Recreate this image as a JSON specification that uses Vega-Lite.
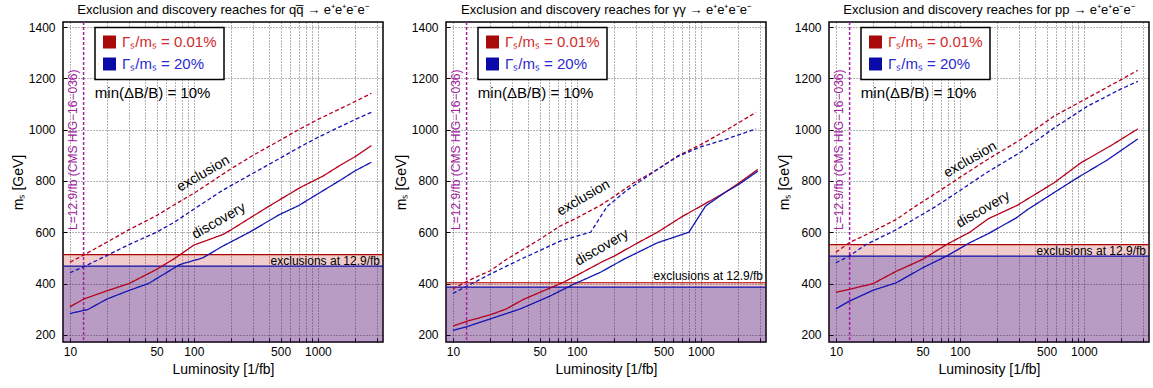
{
"$schema": "https://vega.github.io/schema/vega-lite/v6.json",
"padding": {"left": 10, "top": 3, "right": 0, "bottom": 0},
"spacing": 8,
"config": {
  "font": "Liberation Sans",
  "view": {"stroke": "#000", "strokeWidth": 1.5},
  "axis": {"grid": true, "gridColor": "#000", "gridDash": [1, 2], "gridOpacity": 0.6, "gridWidth": 1, "labelFontSize": 12, "labelColor": "#000", "titleFontSize": 14, "titleFontWeight": "normal", "titleColor": "#000", "domain": false, "tickColor": "#000", "tickSize": -4, "labelFont": "Liberation Sans", "titleFont": "Liberation Sans", "labelOverlap": false},
  "axisX": {"labelPadding": 8, "titlePadding": 5},
  "axisY": {"labelPadding": 12, "titlePadding": 3},
  "title": {"fontSize": 13, "fontWeight": "normal", "font": "Liberation Sans", "offset": 4, "color": "#000"}
},
"resolve": {"scale": {"color": "independent"}, "legend": {"color": "independent"}},
"hconcat": [
{
  "width": 320, "height": 320,
  "title": "Exclusion and discovery reaches for qq̅ → e⁺e⁺e⁻e⁻",
  "layer": [
    {"data": {"values": [{"red": 513, "blue": 468, "lo": 172, "x1": 8.8, "x2": 3350}]}, "mark": {"type": "rect", "color": "#b40000", "opacity": 0.2}, "encoding": {"x": {"field": "x1", "type": "quantitative", "scale": {"type": "log", "domain": [8.8, 3350]}}, "x2": {"field": "x2"}, "y": {"field": "lo", "type": "quantitative", "scale": {"domain": [172, 1420], "nice": false, "zero": false}}, "y2": {"field": "red"}}},
    {"data": {"values": [{"red": 513, "blue": 468, "lo": 172, "x1": 8.8, "x2": 3350}]}, "mark": {"type": "rect", "color": "#0000aa", "opacity": 0.23}, "encoding": {"x": {"field": "x1", "type": "quantitative", "scale": {"type": "log", "domain": [8.8, 3350]}}, "x2": {"field": "x2"}, "y": {"field": "lo", "type": "quantitative", "scale": {"domain": [172, 1420], "nice": false, "zero": false}}, "y2": {"field": "blue"}}},
    {"data": {"values": [{"red": 513, "blue": 468}]}, "mark": {"type": "rule", "color": "#b00000", "strokeWidth": 1.2}, "encoding": {"y": {"field": "red", "type": "quantitative", "scale": {"domain": [172, 1420], "nice": false, "zero": false}}}},
    {"data": {"values": [{"red": 513, "blue": 468}]}, "mark": {"type": "rule", "color": "#1010a8", "strokeWidth": 1.2}, "encoding": {"y": {"field": "blue", "type": "quantitative", "scale": {"domain": [172, 1420], "nice": false, "zero": false}}}},
    {"data": {"values": [{"L": 12.9}]}, "mark": {"type": "rule", "color": "#a020a0", "strokeWidth": 1.5, "strokeDash": [3, 2]}, "encoding": {"x": {"field": "L", "type": "quantitative", "scale": {"type": "log", "domain": [8.8, 3350]}}}},
    {"data": {"values": [
      {"L": 10, "m": 483, "w": "Γₛ/mₛ = 0.01%", "k": "exclusion"},
      {"L": 13, "m": 512, "w": "Γₛ/mₛ = 0.01%", "k": "exclusion"},
      {"L": 20, "m": 562, "w": "Γₛ/mₛ = 0.01%", "k": "exclusion"},
      {"L": 30, "m": 610, "w": "Γₛ/mₛ = 0.01%", "k": "exclusion"},
      {"L": 50, "m": 665, "w": "Γₛ/mₛ = 0.01%", "k": "exclusion"},
      {"L": 70, "m": 708, "w": "Γₛ/mₛ = 0.01%", "k": "exclusion"},
      {"L": 100, "m": 752, "w": "Γₛ/mₛ = 0.01%", "k": "exclusion"},
      {"L": 200, "m": 848, "w": "Γₛ/mₛ = 0.01%", "k": "exclusion"},
      {"L": 300, "m": 900, "w": "Γₛ/mₛ = 0.01%", "k": "exclusion"},
      {"L": 500, "m": 960, "w": "Γₛ/mₛ = 0.01%", "k": "exclusion"},
      {"L": 700, "m": 1000, "w": "Γₛ/mₛ = 0.01%", "k": "exclusion"},
      {"L": 1000, "m": 1040, "w": "Γₛ/mₛ = 0.01%", "k": "exclusion"},
      {"L": 2000, "m": 1110, "w": "Γₛ/mₛ = 0.01%", "k": "exclusion"},
      {"L": 2700, "m": 1142, "w": "Γₛ/mₛ = 0.01%", "k": "exclusion"},
      {"L": 10, "m": 442, "w": "Γₛ/mₛ = 20%", "k": "exclusion"},
      {"L": 13, "m": 466, "w": "Γₛ/mₛ = 20%", "k": "exclusion"},
      {"L": 20, "m": 510, "w": "Γₛ/mₛ = 20%", "k": "exclusion"},
      {"L": 30, "m": 552, "w": "Γₛ/mₛ = 20%", "k": "exclusion"},
      {"L": 50, "m": 600, "w": "Γₛ/mₛ = 20%", "k": "exclusion"},
      {"L": 70, "m": 640, "w": "Γₛ/mₛ = 20%", "k": "exclusion"},
      {"L": 100, "m": 690, "w": "Γₛ/mₛ = 20%", "k": "exclusion"},
      {"L": 171, "m": 764, "w": "Γₛ/mₛ = 20%", "k": "exclusion"},
      {"L": 300, "m": 830, "w": "Γₛ/mₛ = 20%", "k": "exclusion"},
      {"L": 500, "m": 890, "w": "Γₛ/mₛ = 20%", "k": "exclusion"},
      {"L": 700, "m": 930, "w": "Γₛ/mₛ = 20%", "k": "exclusion"},
      {"L": 1000, "m": 970, "w": "Γₛ/mₛ = 20%", "k": "exclusion"},
      {"L": 2000, "m": 1040, "w": "Γₛ/mₛ = 20%", "k": "exclusion"},
      {"L": 2700, "m": 1068, "w": "Γₛ/mₛ = 20%", "k": "exclusion"},
      {"L": 10, "m": 309, "w": "Γₛ/mₛ = 0.01%", "k": "discovery"},
      {"L": 13, "m": 340, "w": "Γₛ/mₛ = 0.01%", "k": "discovery"},
      {"L": 20, "m": 372, "w": "Γₛ/mₛ = 0.01%", "k": "discovery"},
      {"L": 30, "m": 400, "w": "Γₛ/mₛ = 0.01%", "k": "discovery"},
      {"L": 50, "m": 455, "w": "Γₛ/mₛ = 0.01%", "k": "discovery"},
      {"L": 70, "m": 498, "w": "Γₛ/mₛ = 0.01%", "k": "discovery"},
      {"L": 100, "m": 550, "w": "Γₛ/mₛ = 0.01%", "k": "discovery"},
      {"L": 171, "m": 591, "w": "Γₛ/mₛ = 0.01%", "k": "discovery"},
      {"L": 200, "m": 610, "w": "Γₛ/mₛ = 0.01%", "k": "discovery"},
      {"L": 383, "m": 695, "w": "Γₛ/mₛ = 0.01%", "k": "discovery"},
      {"L": 711, "m": 773, "w": "Γₛ/mₛ = 0.01%", "k": "discovery"},
      {"L": 1098, "m": 819, "w": "Γₛ/mₛ = 0.01%", "k": "discovery"},
      {"L": 1500, "m": 860, "w": "Γₛ/mₛ = 0.01%", "k": "discovery"},
      {"L": 2000, "m": 895, "w": "Γₛ/mₛ = 0.01%", "k": "discovery"},
      {"L": 2700, "m": 938, "w": "Γₛ/mₛ = 0.01%", "k": "discovery"},
      {"L": 10, "m": 283, "w": "Γₛ/mₛ = 20%", "k": "discovery"},
      {"L": 14, "m": 299, "w": "Γₛ/mₛ = 20%", "k": "discovery"},
      {"L": 20, "m": 340, "w": "Γₛ/mₛ = 20%", "k": "discovery"},
      {"L": 30, "m": 373, "w": "Γₛ/mₛ = 20%", "k": "discovery"},
      {"L": 43, "m": 400, "w": "Γₛ/mₛ = 20%", "k": "discovery"},
      {"L": 77, "m": 474, "w": "Γₛ/mₛ = 20%", "k": "discovery"},
      {"L": 118, "m": 500, "w": "Γₛ/mₛ = 20%", "k": "discovery"},
      {"L": 171, "m": 546, "w": "Γₛ/mₛ = 20%", "k": "discovery"},
      {"L": 283, "m": 601, "w": "Γₛ/mₛ = 20%", "k": "discovery"},
      {"L": 490, "m": 669, "w": "Γₛ/mₛ = 20%", "k": "discovery"},
      {"L": 700, "m": 704, "w": "Γₛ/mₛ = 20%", "k": "discovery"},
      {"L": 1000, "m": 750, "w": "Γₛ/mₛ = 20%", "k": "discovery"},
      {"L": 1540, "m": 805, "w": "Γₛ/mₛ = 20%", "k": "discovery"},
      {"L": 2000, "m": 840, "w": "Γₛ/mₛ = 20%", "k": "discovery"},
      {"L": 2700, "m": 873, "w": "Γₛ/mₛ = 20%", "k": "discovery"}
    ]},
    "mark": {"type": "line", "strokeWidth": 1.3},
    "encoding": {
      "x": {"field": "L", "type": "quantitative", "scale": {"type": "log", "domain": [8.8, 3350]}, "axis": {"title": "Luminosity [1/fb]", "values": [10,20,30,40,50,60,70,80,90,100,200,300,400,500,600,700,800,900,1000,2000,3000], "format": "d", "labelExpr": "(datum.value==10||datum.value==50||datum.value==100||datum.value==500||datum.value==1000) ? datum.label : ''"}},
      "y": {"field": "m", "type": "quantitative", "scale": {"domain": [172, 1420], "nice": false, "zero": false}, "axis": {"title": "mₛ [GeV]", "values": [200,250,300,350,400,450,500,550,600,650,700,750,800,850,900,950,1000,1050,1100,1150,1200,1250,1300,1350,1400], "format": "d", "labelExpr": "datum.value % 200 === 0 ? datum.label : ''"}},
      "color": {"field": "w", "type": "nominal", "scale": {"domain": ["Γₛ/mₛ = 0.01%", "Γₛ/mₛ = 20%"], "range": ["#b4001c", "#1414b4"]},
        "legend": {"title": null, "orient": "none", "legendX": 32, "legendY": 5.5, "symbolType": "square", "symbolSize": 169, "symbolStrokeWidth": 0, "symbolOpacity": 1, "labelFontSize": 15, "labelOffset": 5, "padding": 7, "rowPadding": 6, "strokeColor": "#000", "fillColor": "#fff", "labelFont": "Liberation Sans",
          "encode": {
            "symbols": {"update": {"fill": {"signal": "indexof(datum.label, '20%') >= 0 ? '#0a0aa8' : '#a80a0a'"}, "fillOpacity": {"value": 1}}},
            "labels": {"update": {"fill": {"signal": "indexof(datum.label, '20%') >= 0 ? '#2a2ad0' : '#d02a2a'"}}},
            "legend": {"update": {"strokeWidth": {"value": 1.5}}}
          }}},
      "strokeDash": {"field": "k", "type": "nominal", "scale": {"domain": ["exclusion", "discovery"], "range": [[4, 2.5], [1, 0]]}, "legend": null}
    }},
    {"data": {"values": [{"t": "L=12.9/fb (CMS HIG−16−036)", "L": 12.9, "m": 609}]}, "mark": {"type": "text", "angle": 270, "align": "left", "baseline": "bottom", "dy": -4, "fontSize": 12, "color": "#a020a0"}, "encoding": {"x": {"field": "L", "type": "quantitative", "scale": {"type": "log", "domain": [8.8, 3350]}}, "y": {"field": "m", "type": "quantitative", "scale": {"domain": [172, 1420], "nice": false, "zero": false}}, "text": {"field": "t"}}},
    {"data": {"values": [{"t": "min(ΔB/B) = 10%", "L": 15.9, "m": 1143}]}, "mark": {"type": "text", "align": "left", "baseline": "middle", "fontSize": 15, "color": "#000"}, "encoding": {"x": {"field": "L", "type": "quantitative", "scale": {"type": "log", "domain": [8.8, 3350]}}, "y": {"field": "m", "type": "quantitative", "scale": {"domain": [172, 1420], "nice": false, "zero": false}}, "text": {"field": "t"}}},
    {"data": {"values": [{"t": "exclusions at 12.9/fb", "L": 3350, "m": 488}]}, "mark": {"type": "text", "align": "right", "baseline": "middle", "dx": -3, "fontSize": 12, "color": "#000"}, "encoding": {"x": {"field": "L", "type": "quantitative", "scale": {"type": "log", "domain": [8.8, 3350]}}, "y": {"field": "m", "type": "quantitative", "scale": {"domain": [172, 1420], "nice": false, "zero": false}}, "text": {"field": "t"}}},
    {"data": {"values": [{"t": "exclusion", "L": 119, "m": 828}, {"t": "discovery", "L": 159, "m": 644}]}, "mark": {"type": "text", "align": "center", "baseline": "middle", "angle": 330, "fontSize": 14, "color": "#000"}, "encoding": {"x": {"field": "L", "type": "quantitative", "scale": {"type": "log", "domain": [8.8, 3350]}}, "y": {"field": "m", "type": "quantitative", "scale": {"domain": [172, 1420], "nice": false, "zero": false}}, "text": {"field": "t"}}}
  ]
},
{
  "width": 320, "height": 320,
  "title": "Exclusion and discovery reaches for γγ → e⁺e⁺e⁻e⁻",
  "layer": [
    {"data": {"values": [{"red": 403, "blue": 386, "lo": 172, "x1": 8.8, "x2": 3350}]}, "mark": {"type": "rect", "color": "#b40000", "opacity": 0.2}, "encoding": {"x": {"field": "x1", "type": "quantitative", "scale": {"type": "log", "domain": [8.8, 3350]}}, "x2": {"field": "x2"}, "y": {"field": "lo", "type": "quantitative", "scale": {"domain": [172, 1420], "nice": false, "zero": false}}, "y2": {"field": "red"}}},
    {"data": {"values": [{"red": 403, "blue": 386, "lo": 172, "x1": 8.8, "x2": 3350}]}, "mark": {"type": "rect", "color": "#0000aa", "opacity": 0.23}, "encoding": {"x": {"field": "x1", "type": "quantitative", "scale": {"type": "log", "domain": [8.8, 3350]}}, "x2": {"field": "x2"}, "y": {"field": "lo", "type": "quantitative", "scale": {"domain": [172, 1420], "nice": false, "zero": false}}, "y2": {"field": "blue"}}},
    {"data": {"values": [{"red": 403, "blue": 386}]}, "mark": {"type": "rule", "color": "#b00000", "strokeWidth": 1.2}, "encoding": {"y": {"field": "red", "type": "quantitative", "scale": {"domain": [172, 1420], "nice": false, "zero": false}}}},
    {"data": {"values": [{"red": 403, "blue": 386}]}, "mark": {"type": "rule", "color": "#1010a8", "strokeWidth": 1.2}, "encoding": {"y": {"field": "blue", "type": "quantitative", "scale": {"domain": [172, 1420], "nice": false, "zero": false}}}},
    {"data": {"values": [{"L": 12.9}]}, "mark": {"type": "rule", "color": "#a020a0", "strokeWidth": 1.5, "strokeDash": [3, 2]}, "encoding": {"x": {"field": "L", "type": "quantitative", "scale": {"type": "log", "domain": [8.8, 3350]}}}},
    {"data": {"values": [
      {"L": 10, "m": 379, "w": "Γₛ/mₛ = 0.01%", "k": "exclusion"},
      {"L": 13, "m": 409, "w": "Γₛ/mₛ = 0.01%", "k": "exclusion"},
      {"L": 20, "m": 450, "w": "Γₛ/mₛ = 0.01%", "k": "exclusion"},
      {"L": 27, "m": 494, "w": "Γₛ/mₛ = 0.01%", "k": "exclusion"},
      {"L": 50, "m": 572, "w": "Γₛ/mₛ = 0.01%", "k": "exclusion"},
      {"L": 73, "m": 624, "w": "Γₛ/mₛ = 0.01%", "k": "exclusion"},
      {"L": 100, "m": 656, "w": "Γₛ/mₛ = 0.01%", "k": "exclusion"},
      {"L": 155, "m": 705, "w": "Γₛ/mₛ = 0.01%", "k": "exclusion"},
      {"L": 200, "m": 740, "w": "Γₛ/mₛ = 0.01%", "k": "exclusion"},
      {"L": 288, "m": 793, "w": "Γₛ/mₛ = 0.01%", "k": "exclusion"},
      {"L": 446, "m": 845, "w": "Γₛ/mₛ = 0.01%", "k": "exclusion"},
      {"L": 647, "m": 897, "w": "Γₛ/mₛ = 0.01%", "k": "exclusion"},
      {"L": 1000, "m": 942, "w": "Γₛ/mₛ = 0.01%", "k": "exclusion"},
      {"L": 1550, "m": 994, "w": "Γₛ/mₛ = 0.01%", "k": "exclusion"},
      {"L": 2786, "m": 1068, "w": "Γₛ/mₛ = 0.01%", "k": "exclusion"},
      {"L": 10, "m": 361, "w": "Γₛ/mₛ = 20%", "k": "exclusion"},
      {"L": 13, "m": 390, "w": "Γₛ/mₛ = 20%", "k": "exclusion"},
      {"L": 21, "m": 442, "w": "Γₛ/mₛ = 20%", "k": "exclusion"},
      {"L": 35, "m": 494, "w": "Γₛ/mₛ = 20%", "k": "exclusion"},
      {"L": 73, "m": 565, "w": "Γₛ/mₛ = 20%", "k": "exclusion"},
      {"L": 100, "m": 585, "w": "Γₛ/mₛ = 20%", "k": "exclusion"},
      {"L": 129, "m": 600, "w": "Γₛ/mₛ = 20%", "k": "exclusion"},
      {"L": 175, "m": 700, "w": "Γₛ/mₛ = 20%", "k": "exclusion"},
      {"L": 250, "m": 762, "w": "Γₛ/mₛ = 20%", "k": "exclusion"},
      {"L": 446, "m": 845, "w": "Γₛ/mₛ = 20%", "k": "exclusion"},
      {"L": 647, "m": 895, "w": "Γₛ/mₛ = 20%", "k": "exclusion"},
      {"L": 1000, "m": 933, "w": "Γₛ/mₛ = 20%", "k": "exclusion"},
      {"L": 1550, "m": 961, "w": "Γₛ/mₛ = 20%", "k": "exclusion"},
      {"L": 2786, "m": 1003, "w": "Γₛ/mₛ = 20%", "k": "exclusion"},
      {"L": 10, "m": 234, "w": "Γₛ/mₛ = 0.01%", "k": "discovery"},
      {"L": 13, "m": 253, "w": "Γₛ/mₛ = 0.01%", "k": "discovery"},
      {"L": 20, "m": 278, "w": "Γₛ/mₛ = 0.01%", "k": "discovery"},
      {"L": 27, "m": 301, "w": "Γₛ/mₛ = 0.01%", "k": "discovery"},
      {"L": 37, "m": 338, "w": "Γₛ/mₛ = 0.01%", "k": "discovery"},
      {"L": 50, "m": 365, "w": "Γₛ/mₛ = 0.01%", "k": "discovery"},
      {"L": 78, "m": 405, "w": "Γₛ/mₛ = 0.01%", "k": "discovery"},
      {"L": 100, "m": 432, "w": "Γₛ/mₛ = 0.01%", "k": "discovery"},
      {"L": 160, "m": 485, "w": "Γₛ/mₛ = 0.01%", "k": "discovery"},
      {"L": 200, "m": 507, "w": "Γₛ/mₛ = 0.01%", "k": "discovery"},
      {"L": 300, "m": 555, "w": "Γₛ/mₛ = 0.01%", "k": "discovery"},
      {"L": 446, "m": 600, "w": "Γₛ/mₛ = 0.01%", "k": "discovery"},
      {"L": 700, "m": 660, "w": "Γₛ/mₛ = 0.01%", "k": "discovery"},
      {"L": 1000, "m": 702, "w": "Γₛ/mₛ = 0.01%", "k": "discovery"},
      {"L": 1550, "m": 754, "w": "Γₛ/mₛ = 0.01%", "k": "discovery"},
      {"L": 2000, "m": 790, "w": "Γₛ/mₛ = 0.01%", "k": "discovery"},
      {"L": 2876, "m": 845, "w": "Γₛ/mₛ = 0.01%", "k": "discovery"},
      {"L": 10, "m": 217, "w": "Γₛ/mₛ = 20%", "k": "discovery"},
      {"L": 13, "m": 232, "w": "Γₛ/mₛ = 20%", "k": "discovery"},
      {"L": 20, "m": 262, "w": "Γₛ/mₛ = 20%", "k": "discovery"},
      {"L": 35, "m": 301, "w": "Γₛ/mₛ = 20%", "k": "discovery"},
      {"L": 60, "m": 350, "w": "Γₛ/mₛ = 20%", "k": "discovery"},
      {"L": 94, "m": 397, "w": "Γₛ/mₛ = 20%", "k": "discovery"},
      {"L": 155, "m": 444, "w": "Γₛ/mₛ = 20%", "k": "discovery"},
      {"L": 240, "m": 495, "w": "Γₛ/mₛ = 20%", "k": "discovery"},
      {"L": 446, "m": 559, "w": "Γₛ/mₛ = 20%", "k": "discovery"},
      {"L": 800, "m": 600, "w": "Γₛ/mₛ = 20%", "k": "discovery"},
      {"L": 1090, "m": 702, "w": "Γₛ/mₛ = 20%", "k": "discovery"},
      {"L": 1550, "m": 754, "w": "Γₛ/mₛ = 20%", "k": "discovery"},
      {"L": 2000, "m": 785, "w": "Γₛ/mₛ = 20%", "k": "discovery"},
      {"L": 2876, "m": 838, "w": "Γₛ/mₛ = 20%", "k": "discovery"}
    ]},
    "mark": {"type": "line", "strokeWidth": 1.3},
    "encoding": {
      "x": {"field": "L", "type": "quantitative", "scale": {"type": "log", "domain": [8.8, 3350]}, "axis": {"title": "Luminosity [1/fb]", "values": [10,20,30,40,50,60,70,80,90,100,200,300,400,500,600,700,800,900,1000,2000,3000], "format": "d", "labelExpr": "(datum.value==10||datum.value==50||datum.value==100||datum.value==500||datum.value==1000) ? datum.label : ''"}},
      "y": {"field": "m", "type": "quantitative", "scale": {"domain": [172, 1420], "nice": false, "zero": false}, "axis": {"title": "mₛ [GeV]", "values": [200,250,300,350,400,450,500,550,600,650,700,750,800,850,900,950,1000,1050,1100,1150,1200,1250,1300,1350,1400], "format": "d", "labelExpr": "datum.value % 200 === 0 ? datum.label : ''"}},
      "color": {"field": "w", "type": "nominal", "scale": {"domain": ["Γₛ/mₛ = 0.01%", "Γₛ/mₛ = 20%"], "range": ["#b4001c", "#1414b4"]},
        "legend": {"title": null, "orient": "none", "legendX": 32, "legendY": 5.5, "symbolType": "square", "symbolSize": 169, "symbolStrokeWidth": 0, "symbolOpacity": 1, "labelFontSize": 15, "labelOffset": 5, "padding": 7, "rowPadding": 6, "strokeColor": "#000", "fillColor": "#fff", "labelFont": "Liberation Sans",
          "encode": {
            "symbols": {"update": {"fill": {"signal": "indexof(datum.label, '20%') >= 0 ? '#0a0aa8' : '#a80a0a'"}, "fillOpacity": {"value": 1}}},
            "labels": {"update": {"fill": {"signal": "indexof(datum.label, '20%') >= 0 ? '#2a2ad0' : '#d02a2a'"}}},
            "legend": {"update": {"strokeWidth": {"value": 1.5}}}
          }}},
      "strokeDash": {"field": "k", "type": "nominal", "scale": {"domain": ["exclusion", "discovery"], "range": [[4, 2.5], [1, 0]]}, "legend": null}
    }},
    {"data": {"values": [{"t": "L=12.9/fb (CMS HIG−16−036)", "L": 12.9, "m": 609}]}, "mark": {"type": "text", "angle": 270, "align": "left", "baseline": "bottom", "dy": -4, "fontSize": 12, "color": "#a020a0"}, "encoding": {"x": {"field": "L", "type": "quantitative", "scale": {"type": "log", "domain": [8.8, 3350]}}, "y": {"field": "m", "type": "quantitative", "scale": {"domain": [172, 1420], "nice": false, "zero": false}}, "text": {"field": "t"}}},
    {"data": {"values": [{"t": "min(ΔB/B) = 10%", "L": 15.9, "m": 1143}]}, "mark": {"type": "text", "align": "left", "baseline": "middle", "fontSize": 15, "color": "#000"}, "encoding": {"x": {"field": "L", "type": "quantitative", "scale": {"type": "log", "domain": [8.8, 3350]}}, "y": {"field": "m", "type": "quantitative", "scale": {"domain": [172, 1420], "nice": false, "zero": false}}, "text": {"field": "t"}}},
    {"data": {"values": [{"t": "exclusions at 12.9/fb", "L": 3350, "m": 430}]}, "mark": {"type": "text", "align": "right", "baseline": "middle", "dx": -3, "fontSize": 12, "color": "#000"}, "encoding": {"x": {"field": "L", "type": "quantitative", "scale": {"type": "log", "domain": [8.8, 3350]}}, "y": {"field": "m", "type": "quantitative", "scale": {"domain": [172, 1420], "nice": false, "zero": false}}, "text": {"field": "t"}}},
    {"data": {"values": [{"t": "exclusion", "L": 113, "m": 734}, {"t": "discovery", "L": 159, "m": 540}]}, "mark": {"type": "text", "align": "center", "baseline": "middle", "angle": 330, "fontSize": 14, "color": "#000"}, "encoding": {"x": {"field": "L", "type": "quantitative", "scale": {"type": "log", "domain": [8.8, 3350]}}, "y": {"field": "m", "type": "quantitative", "scale": {"domain": [172, 1420], "nice": false, "zero": false}}, "text": {"field": "t"}}}
  ]
},
{
  "width": 320, "height": 320,
  "title": "Exclusion and discovery reaches for pp → e⁺e⁺e⁻e⁻",
  "layer": [
    {"data": {"values": [{"red": 552, "blue": 507, "lo": 172, "x1": 8.8, "x2": 3350}]}, "mark": {"type": "rect", "color": "#b40000", "opacity": 0.2}, "encoding": {"x": {"field": "x1", "type": "quantitative", "scale": {"type": "log", "domain": [8.8, 3350]}}, "x2": {"field": "x2"}, "y": {"field": "lo", "type": "quantitative", "scale": {"domain": [172, 1420], "nice": false, "zero": false}}, "y2": {"field": "red"}}},
    {"data": {"values": [{"red": 552, "blue": 507, "lo": 172, "x1": 8.8, "x2": 3350}]}, "mark": {"type": "rect", "color": "#0000aa", "opacity": 0.23}, "encoding": {"x": {"field": "x1", "type": "quantitative", "scale": {"type": "log", "domain": [8.8, 3350]}}, "x2": {"field": "x2"}, "y": {"field": "lo", "type": "quantitative", "scale": {"domain": [172, 1420], "nice": false, "zero": false}}, "y2": {"field": "blue"}}},
    {"data": {"values": [{"red": 552, "blue": 507}]}, "mark": {"type": "rule", "color": "#b00000", "strokeWidth": 1.2}, "encoding": {"y": {"field": "red", "type": "quantitative", "scale": {"domain": [172, 1420], "nice": false, "zero": false}}}},
    {"data": {"values": [{"red": 552, "blue": 507}]}, "mark": {"type": "rule", "color": "#1010a8", "strokeWidth": 1.2}, "encoding": {"y": {"field": "blue", "type": "quantitative", "scale": {"domain": [172, 1420], "nice": false, "zero": false}}}},
    {"data": {"values": [{"L": 12.9}]}, "mark": {"type": "rule", "color": "#a020a0", "strokeWidth": 1.5, "strokeDash": [3, 2]}, "encoding": {"x": {"field": "L", "type": "quantitative", "scale": {"type": "log", "domain": [8.8, 3350]}}}},
    {"data": {"values": [
      {"L": 10, "m": 522, "w": "Γₛ/mₛ = 0.01%", "k": "exclusion"},
      {"L": 12.8, "m": 559, "w": "Γₛ/mₛ = 0.01%", "k": "exclusion"},
      {"L": 20, "m": 604, "w": "Γₛ/mₛ = 0.01%", "k": "exclusion"},
      {"L": 30.7, "m": 650, "w": "Γₛ/mₛ = 0.01%", "k": "exclusion"},
      {"L": 44, "m": 702, "w": "Γₛ/mₛ = 0.01%", "k": "exclusion"},
      {"L": 65, "m": 754, "w": "Γₛ/mₛ = 0.01%", "k": "exclusion"},
      {"L": 100, "m": 814, "w": "Γₛ/mₛ = 0.01%", "k": "exclusion"},
      {"L": 166, "m": 883, "w": "Γₛ/mₛ = 0.01%", "k": "exclusion"},
      {"L": 308, "m": 961, "w": "Γₛ/mₛ = 0.01%", "k": "exclusion"},
      {"L": 575, "m": 1053, "w": "Γₛ/mₛ = 0.01%", "k": "exclusion"},
      {"L": 1072, "m": 1124, "w": "Γₛ/mₛ = 0.01%", "k": "exclusion"},
      {"L": 1995, "m": 1195, "w": "Γₛ/mₛ = 0.01%", "k": "exclusion"},
      {"L": 2723, "m": 1232, "w": "Γₛ/mₛ = 0.01%", "k": "exclusion"},
      {"L": 10, "m": 481, "w": "Γₛ/mₛ = 20%", "k": "exclusion"},
      {"L": 12.8, "m": 507, "w": "Γₛ/mₛ = 20%", "k": "exclusion"},
      {"L": 17.5, "m": 552, "w": "Γₛ/mₛ = 20%", "k": "exclusion"},
      {"L": 30.7, "m": 610, "w": "Γₛ/mₛ = 20%", "k": "exclusion"},
      {"L": 64.6, "m": 702, "w": "Γₛ/mₛ = 20%", "k": "exclusion"},
      {"L": 94, "m": 754, "w": "Γₛ/mₛ = 20%", "k": "exclusion"},
      {"L": 166, "m": 834, "w": "Γₛ/mₛ = 20%", "k": "exclusion"},
      {"L": 308, "m": 912, "w": "Γₛ/mₛ = 20%", "k": "exclusion"},
      {"L": 575, "m": 1007, "w": "Γₛ/mₛ = 20%", "k": "exclusion"},
      {"L": 1072, "m": 1092, "w": "Γₛ/mₛ = 20%", "k": "exclusion"},
      {"L": 1995, "m": 1159, "w": "Γₛ/mₛ = 20%", "k": "exclusion"},
      {"L": 2723, "m": 1189, "w": "Γₛ/mₛ = 20%", "k": "exclusion"},
      {"L": 10, "m": 366, "w": "Γₛ/mₛ = 0.01%", "k": "discovery"},
      {"L": 12.8, "m": 377, "w": "Γₛ/mₛ = 0.01%", "k": "discovery"},
      {"L": 20, "m": 400, "w": "Γₛ/mₛ = 0.01%", "k": "discovery"},
      {"L": 30.7, "m": 448, "w": "Γₛ/mₛ = 0.01%", "k": "discovery"},
      {"L": 50, "m": 494, "w": "Γₛ/mₛ = 0.01%", "k": "discovery"},
      {"L": 78, "m": 552, "w": "Γₛ/mₛ = 0.01%", "k": "discovery"},
      {"L": 120, "m": 600, "w": "Γₛ/mₛ = 0.01%", "k": "discovery"},
      {"L": 170, "m": 653, "w": "Γₛ/mₛ = 0.01%", "k": "discovery"},
      {"L": 290, "m": 705, "w": "Γₛ/mₛ = 0.01%", "k": "discovery"},
      {"L": 575, "m": 793, "w": "Γₛ/mₛ = 0.01%", "k": "discovery"},
      {"L": 946, "m": 871, "w": "Γₛ/mₛ = 0.01%", "k": "discovery"},
      {"L": 1655, "m": 938, "w": "Γₛ/mₛ = 0.01%", "k": "discovery"},
      {"L": 2723, "m": 1003, "w": "Γₛ/mₛ = 0.01%", "k": "discovery"},
      {"L": 10, "m": 301, "w": "Γₛ/mₛ = 20%", "k": "discovery"},
      {"L": 12.8, "m": 331, "w": "Γₛ/mₛ = 20%", "k": "discovery"},
      {"L": 20, "m": 374, "w": "Γₛ/mₛ = 20%", "k": "discovery"},
      {"L": 30.7, "m": 403, "w": "Γₛ/mₛ = 20%", "k": "discovery"},
      {"L": 50, "m": 461, "w": "Γₛ/mₛ = 20%", "k": "discovery"},
      {"L": 78, "m": 507, "w": "Γₛ/mₛ = 20%", "k": "discovery"},
      {"L": 120, "m": 559, "w": "Γₛ/mₛ = 20%", "k": "discovery"},
      {"L": 170, "m": 595, "w": "Γₛ/mₛ = 20%", "k": "discovery"},
      {"L": 285, "m": 656, "w": "Γₛ/mₛ = 20%", "k": "discovery"},
      {"L": 350, "m": 688, "w": "Γₛ/mₛ = 20%", "k": "discovery"},
      {"L": 836, "m": 805, "w": "Γₛ/mₛ = 20%", "k": "discovery"},
      {"L": 1556, "m": 883, "w": "Γₛ/mₛ = 20%", "k": "discovery"},
      {"L": 2723, "m": 964, "w": "Γₛ/mₛ = 20%", "k": "discovery"}
    ]},
    "mark": {"type": "line", "strokeWidth": 1.3},
    "encoding": {
      "x": {"field": "L", "type": "quantitative", "scale": {"type": "log", "domain": [8.8, 3350]}, "axis": {"title": "Luminosity [1/fb]", "values": [10,20,30,40,50,60,70,80,90,100,200,300,400,500,600,700,800,900,1000,2000,3000], "format": "d", "labelExpr": "(datum.value==10||datum.value==50||datum.value==100||datum.value==500||datum.value==1000) ? datum.label : ''"}},
      "y": {"field": "m", "type": "quantitative", "scale": {"domain": [172, 1420], "nice": false, "zero": false}, "axis": {"title": "mₛ [GeV]", "values": [200,250,300,350,400,450,500,550,600,650,700,750,800,850,900,950,1000,1050,1100,1150,1200,1250,1300,1350,1400], "format": "d", "labelExpr": "datum.value % 200 === 0 ? datum.label : ''"}},
      "color": {"field": "w", "type": "nominal", "scale": {"domain": ["Γₛ/mₛ = 0.01%", "Γₛ/mₛ = 20%"], "range": ["#b4001c", "#1414b4"]},
        "legend": {"title": null, "orient": "none", "legendX": 32, "legendY": 5.5, "symbolType": "square", "symbolSize": 169, "symbolStrokeWidth": 0, "symbolOpacity": 1, "labelFontSize": 15, "labelOffset": 5, "padding": 7, "rowPadding": 6, "strokeColor": "#000", "fillColor": "#fff", "labelFont": "Liberation Sans",
          "encode": {
            "symbols": {"update": {"fill": {"signal": "indexof(datum.label, '20%') >= 0 ? '#0a0aa8' : '#a80a0a'"}, "fillOpacity": {"value": 1}}},
            "labels": {"update": {"fill": {"signal": "indexof(datum.label, '20%') >= 0 ? '#2a2ad0' : '#d02a2a'"}}},
            "legend": {"update": {"strokeWidth": {"value": 1.5}}}
          }}},
      "strokeDash": {"field": "k", "type": "nominal", "scale": {"domain": ["exclusion", "discovery"], "range": [[4, 2.5], [1, 0]]}, "legend": null}
    }},
    {"data": {"values": [{"t": "L=12.9/fb (CMS HIG−16−036)", "L": 12.9, "m": 609}]}, "mark": {"type": "text", "angle": 270, "align": "left", "baseline": "bottom", "dy": -4, "fontSize": 12, "color": "#a020a0"}, "encoding": {"x": {"field": "L", "type": "quantitative", "scale": {"type": "log", "domain": [8.8, 3350]}}, "y": {"field": "m", "type": "quantitative", "scale": {"domain": [172, 1420], "nice": false, "zero": false}}, "text": {"field": "t"}}},
    {"data": {"values": [{"t": "min(ΔB/B) = 10%", "L": 15.9, "m": 1143}]}, "mark": {"type": "text", "align": "left", "baseline": "middle", "fontSize": 15, "color": "#000"}, "encoding": {"x": {"field": "L", "type": "quantitative", "scale": {"type": "log", "domain": [8.8, 3350]}}, "y": {"field": "m", "type": "quantitative", "scale": {"domain": [172, 1420], "nice": false, "zero": false}}, "text": {"field": "t"}}},
    {"data": {"values": [{"t": "exclusions at 12.9/fb", "L": 3350, "m": 526}]}, "mark": {"type": "text", "align": "right", "baseline": "middle", "dx": -3, "fontSize": 12, "color": "#000"}, "encoding": {"x": {"field": "L", "type": "quantitative", "scale": {"type": "log", "domain": [8.8, 3350]}}, "y": {"field": "m", "type": "quantitative", "scale": {"domain": [172, 1420], "nice": false, "zero": false}}, "text": {"field": "t"}}},
    {"data": {"values": [{"t": "exclusion", "L": 121, "m": 883}, {"t": "discovery", "L": 154, "m": 688}]}, "mark": {"type": "text", "align": "center", "baseline": "middle", "angle": 330, "fontSize": 14, "color": "#000"}, "encoding": {"x": {"field": "L", "type": "quantitative", "scale": {"type": "log", "domain": [8.8, 3350]}}, "y": {"field": "m", "type": "quantitative", "scale": {"domain": [172, 1420], "nice": false, "zero": false}}, "text": {"field": "t"}}}
  ]
}
]
}
